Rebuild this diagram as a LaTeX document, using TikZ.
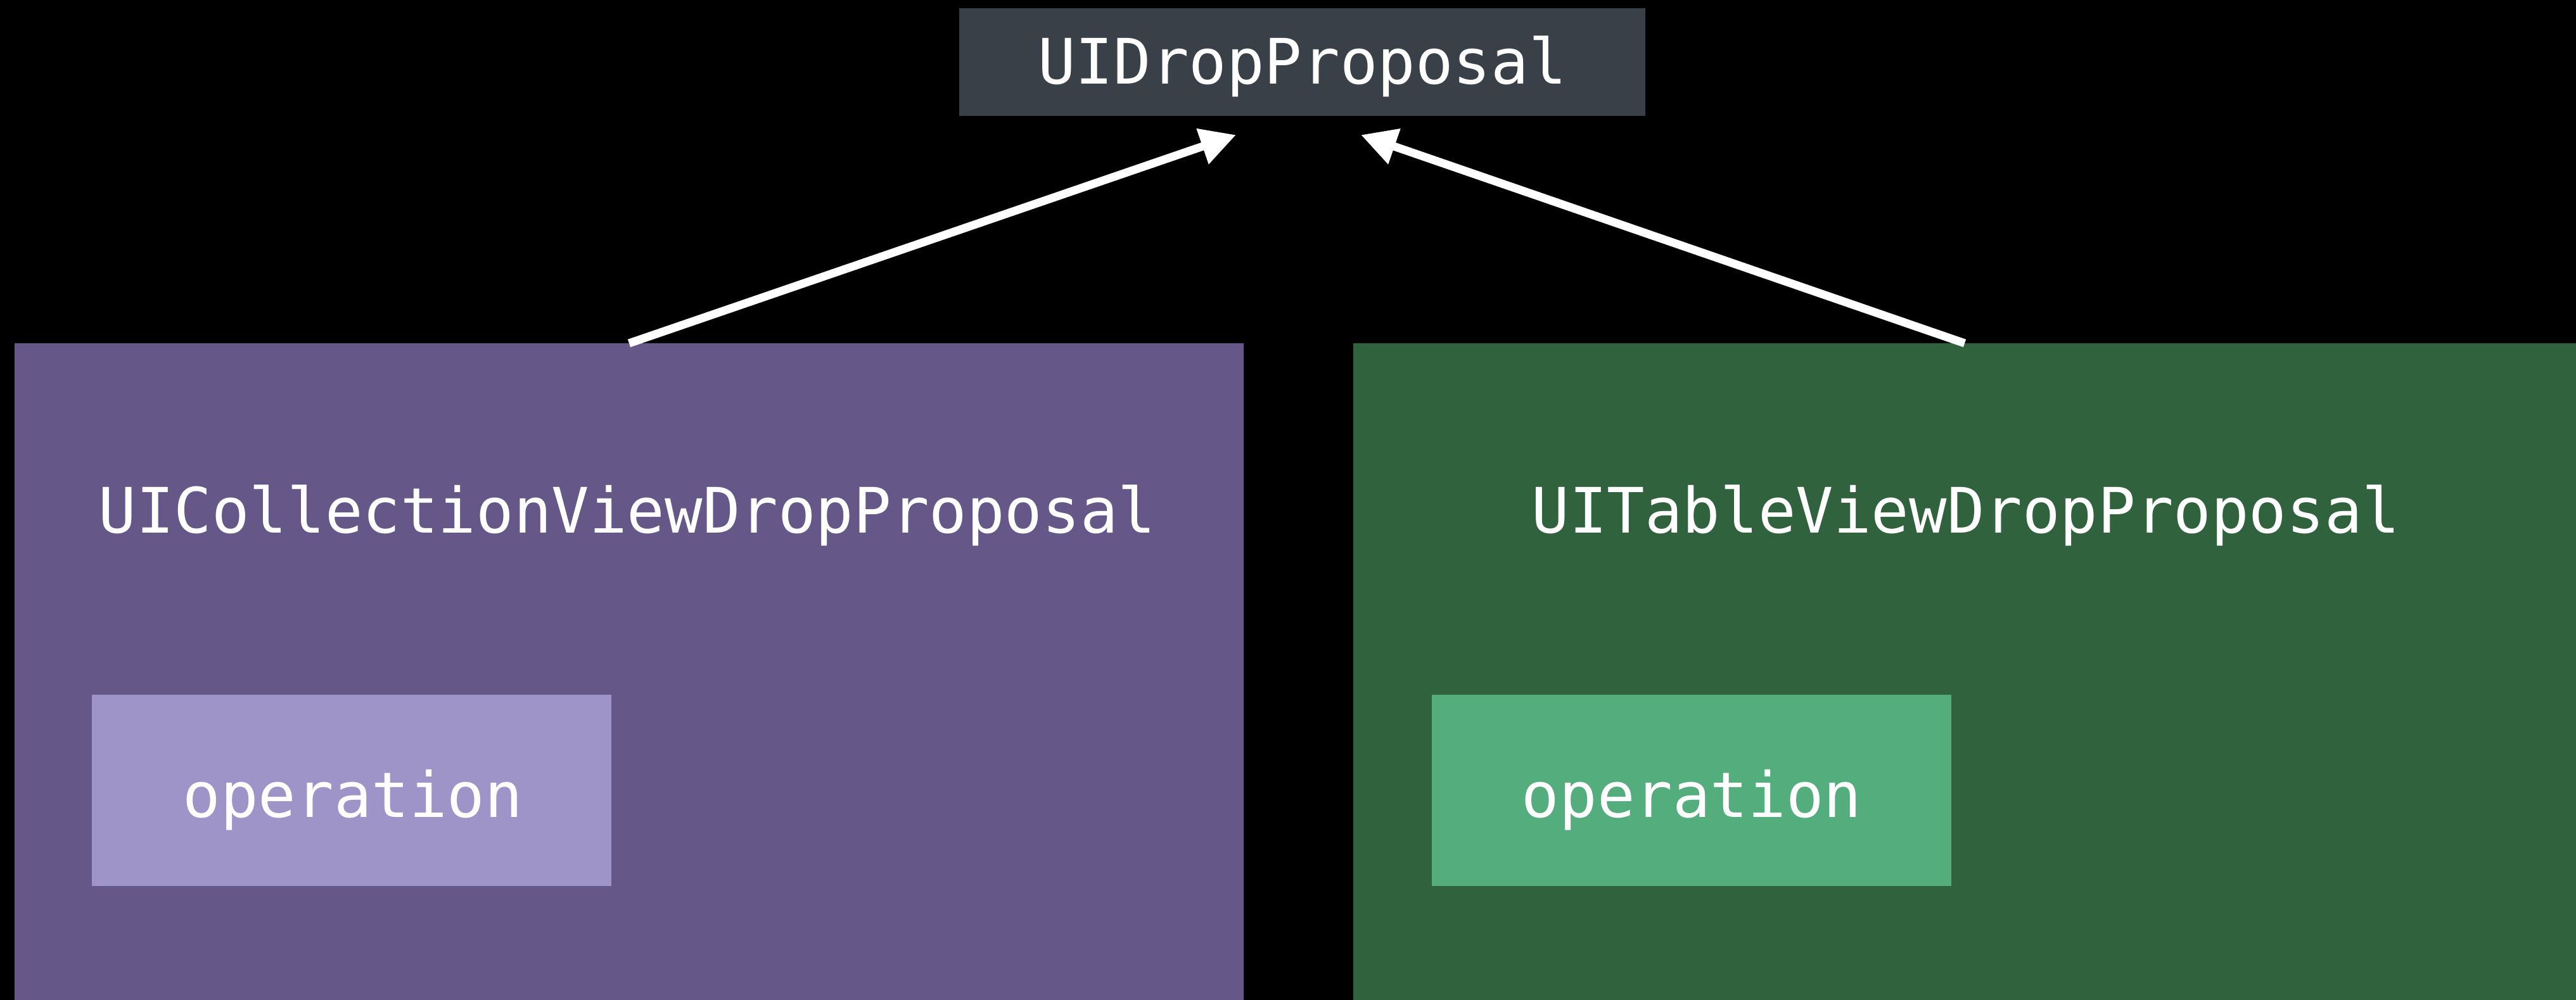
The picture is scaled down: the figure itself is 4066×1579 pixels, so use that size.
\documentclass[tikz,border=0pt]{standalone}
\usepackage{fontspec}
\setmonofont{DejaVu Sans Mono}
\usetikzlibrary{arrows.meta}
\definecolor{topgray}{RGB}{57,64,71}
\definecolor{purpdark}{RGB}{101,88,137}
\definecolor{purplight}{RGB}{159,148,200}
\definecolor{greendark}{RGB}{47,98,61}
\definecolor{greenlight}{RGB}{84,173,124}
\tikzset{
  box/.style={rectangle, draw=none, inner sep=0pt, outer sep=0pt},
  lbl/.style={anchor=base, text=white, inner sep=0pt, font=\fontsize{99}{99}\selectfont\ttfamily},
  arr/.style={draw=white, line width=13pt, -{Triangle[length=56pt,width=56pt]}}
}
\begin{document}
\begin{tikzpicture}[x=1pt,y=-1pt]
\fill[black] (0,0) rectangle (4066,1579);
\useasboundingbox (0,0) rectangle (4066,1579);
% boxes
\node[box, fill=topgray, minimum width=1083pt, minimum height=170pt] (top) at (2055.5,98) {};
\node[box, fill=purpdark, minimum width=1940pt, minimum height=1037pt] (coll) at (993,1060.5) {};
\node[box, fill=greendark, minimum width=1930pt, minimum height=1037pt] (tab) at (3101,1060.5) {};
\node[box, fill=purplight, minimum width=820pt, minimum height=302pt] (collop) at (555,1248) {};
\node[box, fill=greenlight, minimum width=820pt, minimum height=302pt] (tabop) at (2670,1248) {};
% labels
\node[lbl] (toplbl) at (2055.5,132) {UIDropProposal};
\node[lbl] (colllbl) at (990,841) {UICollectionViewDropProposal};
\node[lbl] (tablbl) at (3103,841) {UITableViewDropProposal};
\node[lbl] (collopl) at (557,1290) {operation};
\node[lbl] (tabopl) at (2670,1290) {operation};
% arrows
\coordinate (tipL) at (1951,213);
\coordinate (tipR) at (2148,213);
\draw[arr] (coll.north) -- (tipL);
\draw[arr] (tab.north) -- (tipR);
\end{tikzpicture}
\end{document}
